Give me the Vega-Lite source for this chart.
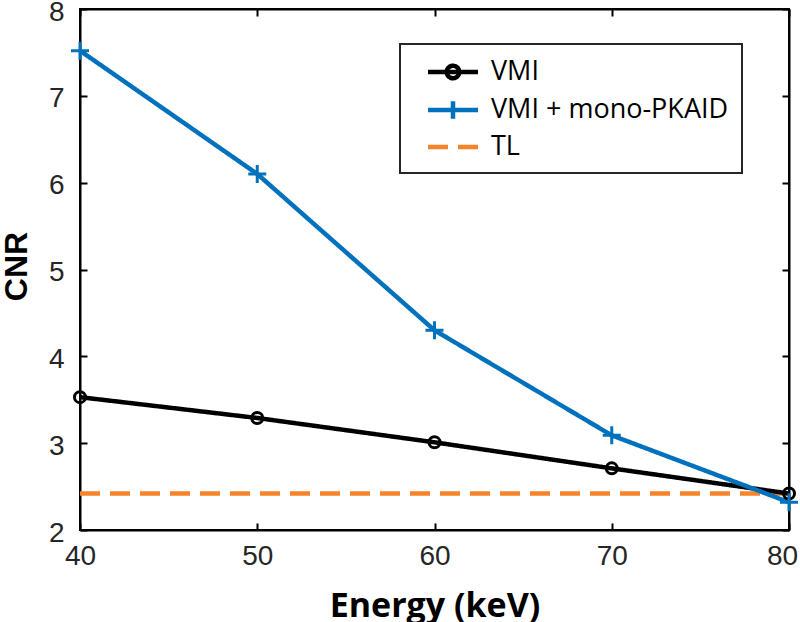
{
  "$schema": "https://vega.github.io/schema/vega-lite/v6.json",
  "width": 709,
  "height": 521,
  "autosize": {"type": "none"},
  "padding": {"left": 80, "top": 9, "right": 11, "bottom": 92},
  "background": "white",
  "config": {
    "view": {"stroke": "black", "strokeWidth": 2},
    "font": "Liberation Sans"
  },
  "data": {
    "values": [
      {"energy": 40, "cnr": 2.42, "series": "TL"},
      {"energy": 80, "cnr": 2.42, "series": "TL"},
      {"energy": 40, "cnr": 3.53, "series": "VMI"},
      {"energy": 50, "cnr": 3.29, "series": "VMI"},
      {"energy": 60, "cnr": 3.01, "series": "VMI"},
      {"energy": 70, "cnr": 2.71, "series": "VMI"},
      {"energy": 80, "cnr": 2.42, "series": "VMI"},
      {"energy": 40, "cnr": 7.52, "series": "VMI + mono-PKAID"},
      {"energy": 50, "cnr": 6.10, "series": "VMI + mono-PKAID"},
      {"energy": 60, "cnr": 4.30, "series": "VMI + mono-PKAID"},
      {"energy": 70, "cnr": 3.09, "series": "VMI + mono-PKAID"},
      {"energy": 80, "cnr": 2.32, "series": "VMI + mono-PKAID"}
    ]
  },
  "layer": [
    {
      "mark": {"type": "line", "strokeWidth": 4.5, "clip": false},
      "encoding": {
        "x": {
          "field": "energy", "type": "quantitative",
          "scale": {"domain": [40, 80], "nice": false, "zero": false},
          "axis": {
            "orient": "bottom",
            "values": [40, 50, 60, 70, 80],
            "tickSize": -7, "tickWidth": 2, "tickColor": "black",
            "domainColor": "black", "domainWidth": 2,
            "labelFontSize": 28, "labelColor": "#262626", "labelPadding": 19,
            "labelOffset": {"condition": {"test": "datum.value == 80", "value": -7}, "value": 0},
            "labelFlush": false, "labelOverlap": false,
            "grid": false,
            "title": "Energy (keV)",
            "titleFont": "Open Sans", "titleFontWeight": "bold", "titleFontSize": 34,
            "titleColor": "black",
            "titleX": 354.5, "titleY": 86, "titleBaseline": "alphabetic", "titleAlign": "center"
          }
        },
        "y": {
          "field": "cnr", "type": "quantitative",
          "scale": {"domain": [2, 8], "nice": false, "zero": false},
          "axis": {
            "orient": "left",
            "values": [2, 3, 4, 5, 6, 7, 8],
            "tickSize": -7, "tickWidth": 2, "tickColor": "black",
            "domainColor": "black", "domainWidth": 2,
            "labelFontSize": 28, "labelColor": "#262626", "labelPadding": 23,
            "labelOffset": 3,
            "labelFlush": false, "labelOverlap": false,
            "grid": false,
            "title": "CNR",
            "titleFont": "Liberation Sans", "titleFontWeight": "bold", "titleFontSize": 32,
            "titleColor": "black",
            "titleAngle": -90,
            "titleX": -54, "titleY": 257, "titleBaseline": "alphabetic", "titleAlign": "center"
          }
        },
        "color": {
          "field": "series", "type": "nominal",
          "scale": {"domain": ["VMI", "VMI + mono-PKAID", "TL"], "range": ["#000000", "#0072BD", "#F7842A"]},
          "legend": {
            "orient": "none", "legendX": 320, "legendY": 35,
            "title": null,
            "padding": 13,
            "strokeColor": "#262626",
            "fillColor": "white",
            "labelFont": "Open Sans", "labelFontSize": 27, "labelColor": "black",
            "labelLimit": 400,
            "symbolSize": 625, "symbolStrokeWidth": 4.5,
            "symbolOffset": 25, "labelOffset": 23,
            "rowPadding": 4,
            "encode": {
              "legend": {"update": {"strokeWidth": {"value": 2}}},
              "symbols": {
                "update": {
                  "shape": {"signal": "datum.value === 'VMI' ? 'M-2,0H2M-0.5,0A0.5,0.5 0 1,1 0.5,0A0.5,0.5 0 1,1 -0.5,0' : (datum.value === 'TL' ? 'M-2,0H2' : 'M-2,0H2M0,-0.7V0.7')"},
                  "fill": {"value": "transparent"}
                }
              }
            }
          }
        },
        "strokeDash": {
          "field": "series", "type": "nominal",
          "scale": {"domain": ["VMI", "VMI + mono-PKAID", "TL"], "range": [[1, 0], [1, 0], [20, 10]]},
          "legend": null
        }
      }
    },
    {
      "transform": [{"filter": "datum.series !== 'TL'"}],
      "mark": {"type": "point", "filled": false, "strokeWidth": 3, "opacity": 1, "clip": false},
      "encoding": {
        "x": {"field": "energy", "type": "quantitative", "axis": null},
        "y": {"field": "cnr", "type": "quantitative", "axis": null},
        "color": {"field": "series", "type": "nominal", "legend": null},
        "shape": {
          "field": "series", "type": "nominal",
          "scale": {"domain": ["VMI", "VMI + mono-PKAID"], "range": ["circle", "M-1,0H1M0,-1V1"]},
          "legend": null
        },
        "size": {"condition": {"test": "datum.series === 'VMI'", "value": 121}, "value": 324}
      }
    },
    {
      "mark": {"type": "point", "opacity": 0},
      "encoding": {
        "x": {
          "field": "energy", "type": "quantitative",
          "axis": {
            "orient": "top", "values": [40, 50, 60, 70, 80],
            "tickSize": -7, "tickWidth": 2, "tickColor": "black",
            "domainColor": "black", "domainWidth": 2,
            "labels": false, "title": null, "grid": false
          }
        },
        "y": {
          "field": "cnr", "type": "quantitative",
          "axis": {
            "orient": "right", "values": [2, 3, 4, 5, 6, 7, 8],
            "tickSize": -7, "tickWidth": 2, "tickColor": "black",
            "domainColor": "black", "domainWidth": 2,
            "labels": false, "title": null, "grid": false
          }
        }
      }
    }
  ],
  "resolve": {"axis": {"x": "independent", "y": "independent"}}
}
